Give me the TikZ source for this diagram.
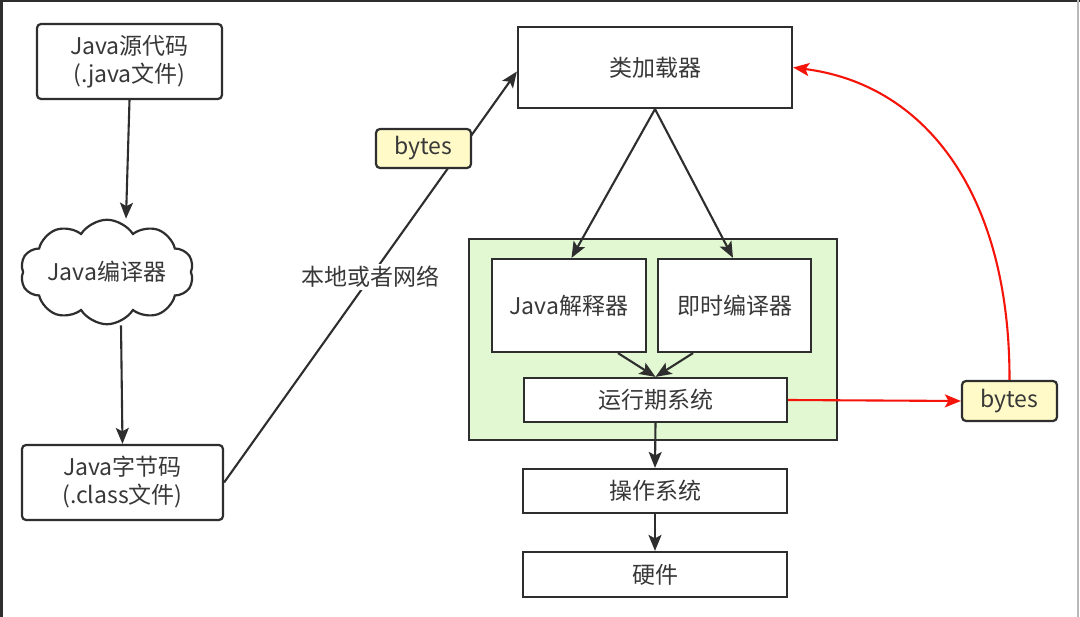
\documentclass[tikz,border=0pt]{standalone}
\usepackage{fontspec}
\setmainfont{Noto Sans CJK SC}
\usetikzlibrary{shapes.symbols,arrows.meta,calc}
\definecolor{linec}{HTML}{2E2E2E}
\definecolor{textc}{HTML}{383838}
\definecolor{greenf}{HTML}{E1F8D2}
\definecolor{yellowf}{HTML}{FFFAC8}
\definecolor{redc}{HTML}{F5140A}
\begin{document}
\begin{tikzpicture}[x=1pt,y=-1pt,
  every node/.style={font=\fontsize{23}{28}\selectfont, text=textc, inner sep=0pt},
  boxsq/.style={draw=linec, line width=2.2pt, fill=white, align=center},
  boxrd/.style={boxsq, rounded corners=4pt},
  bytesbox/.style={draw=linec, line width=2.2pt, fill=yellowf, rounded corners=4pt, minimum width=95pt, minimum height=39pt},
  arr/.style={draw=linec, line width=2.1pt, -{Stealth[length=16pt,width=13pt,inset=3.5pt]}},
  redarr/.style={draw=redc, line width=2.1pt, -{Stealth[length=16pt,width=13pt,inset=3.5pt]}},
  framec/.style={fill=linec}]
\useasboundingbox (0,0) rectangle (1080,617);
\fill[white] (0,0) rectangle (1080,617);
% screenshot frame
\fill[framec] (0,0) rectangle (2.5,617);
\fill[framec] (0,0) rectangle (1080,1.8);
\fill[gray!55] (1077,0) rectangle (1078.5,617);

% left column
\node[boxrd, minimum width=185pt, minimum height=75pt] (src) at (129.5,61.5) {Java源代码\\(.java文件)};
\node[draw=linec, line width=2.2pt, fill=white, shape=cloud, cloud puffs=10, cloud puff arc=115, aspect=2.1,
      minimum width=170pt, minimum height=82pt] (cloud) at (107,272) {Java编译器};
\node[boxrd, minimum width=201pt, minimum height=75pt] (bc) at (122.5,482.5) {Java字节码\\(.class文件)};

% right column
\node[boxsq, minimum width=274pt, minimum height=81pt] (cl) at (655,67.5) {类加载器};
\node[draw=linec, line width=2.2pt, fill=greenf, minimum width=368pt, minimum height=201pt] (green) at (653,339.5) {};
\node[boxsq, minimum width=154pt, minimum height=93pt] (interp) at (569,305.5) {Java解释器};
\node[boxsq, minimum width=153pt, minimum height=93pt] (jit) at (734.5,305.5) {即时编译器};
\node[boxsq, minimum width=263pt, minimum height=44pt] (rt) at (655.5,400) {运行期系统};
\node[boxsq, minimum width=264pt, minimum height=44pt] (os) at (655,491) {操作系统};
\node[boxsq, minimum width=264pt, minimum height=45pt] (hw) at (655,574.5) {硬件};

% left connectors
\draw[arr] (src.south) -- ([xshift=19pt]cloud.north);
\draw[arr] ([xshift=14pt]cloud.south) -- (bc.north);
\draw[arr] (bc.east) -- node[pos=0.5, fill=white, inner sep=2pt] (net) {本地或者网络} ([yshift=-4pt]cl.west);
\node[bytesbox] (b1) at (423.5,148.5) {bytes};

% right connectors
\draw[arr] (cl.south) -- ([xshift=2.5pt]interp.north);
\draw[arr] (cl.south) -- ([xshift=-1.5pt]jit.north);
\draw[arr] ([xshift=49pt]interp.south) -- (rt.north);
\draw[arr] ([xshift=-41.5pt]jit.south) -- (rt.north);
\draw[arr] (rt.south) -- (os.north);
\draw[arr] (os.south) -- (hw.north);

% red feedback
\node[bytesbox, minimum height=40pt] (b2) at (1009.5,401) {bytes};
\draw[redarr] (rt.east) -- (b2.west);
\draw[redarr] (b2.north) .. controls (1010,200) and (930,85) .. (cl.east);
\end{tikzpicture}
\end{document}
